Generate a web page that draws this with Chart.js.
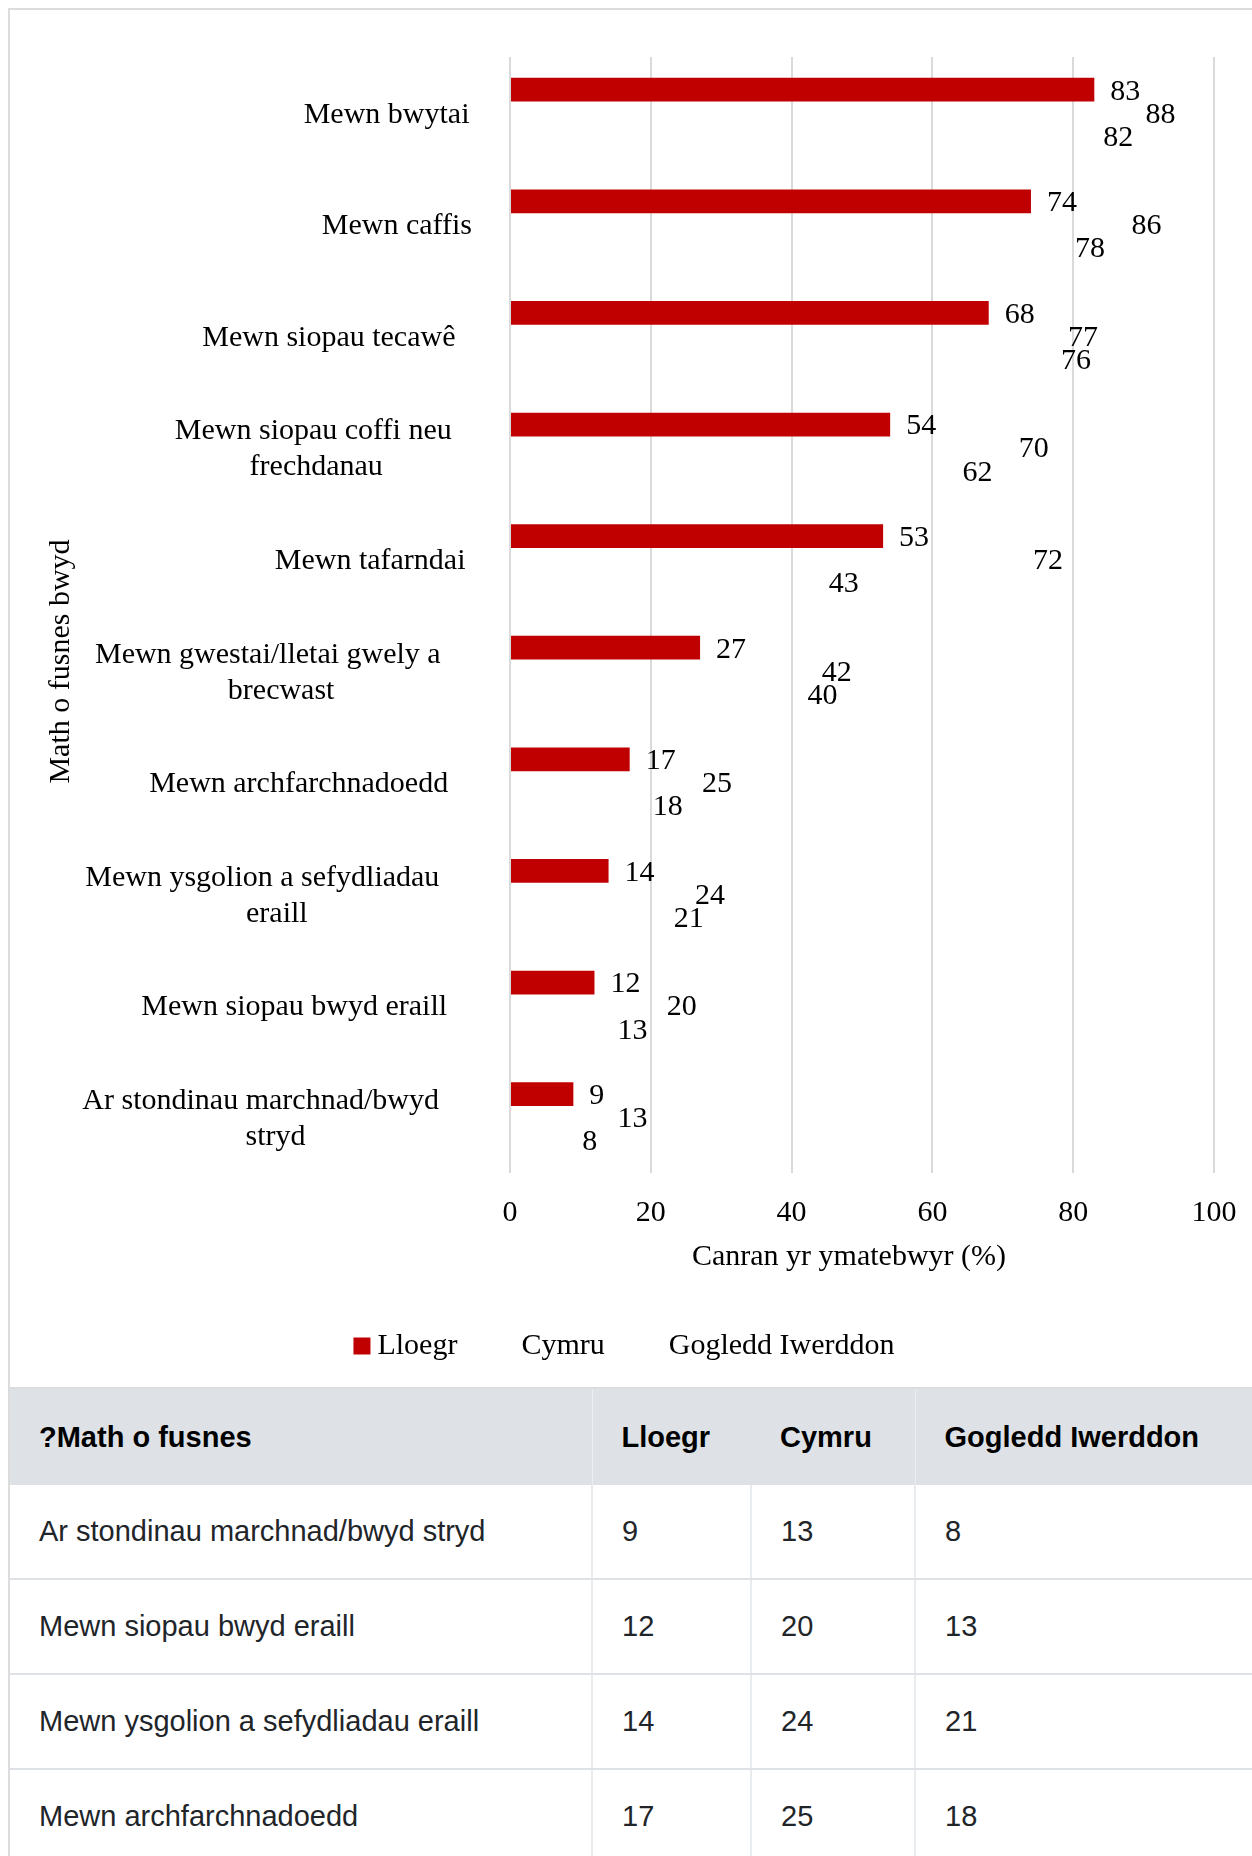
<!DOCTYPE html>
<html lang="cy">
<head>
<meta charset="utf-8">
<script src="https://cdn.jsdelivr.net/npm/chart.js@4"></script>
<style>
  body { margin: 0; background: #fff; overflow: hidden; }
  .panel {
    position: absolute; left: 8px; top: 8px; width: 1320px;
    border-left: 2px solid #dcdcdc; border-top: 2px solid #dcdcdc;
  }
  .lienzo { position: relative; width: 1228px; height: 1377px; }
  table {
    border-collapse: collapse; table-layout: fixed; width: 1310px;
    font-family: "Liberation Sans", Arial, sans-serif; font-size: 29px; color: #212529;
  }
  th, td { text-align: left; padding: 0 0 0 29px; }
  th {
    background: #dee2e6; height: 96px; font-weight: bold; color: #000;
    border-top: 2px solid #dcdcdc;
  }
  th.sep { border-left: 1px solid #eceef0; }
  td { height: 93px; border-bottom: 2px solid #dee2e6; border-left: 2px solid #e9ecef; }
  td:first-child { border-left: none; }
</style>
</head>
<body>
<div class="panel">
  <div class="lienzo"><canvas id="grafica"></canvas></div>
  <table id="tabla">
    <colgroup><col style="width:582px"><col style="width:159px"><col style="width:164px"><col></colgroup>
    <thead>
      <tr><th>?Math o fusnes</th><th class="sep">Lloegr</th><th>Cymru</th><th class="sep">Gogledd Iwerddon</th></tr>
    </thead>
    <tbody></tbody>
  </table>
</div>

<script>
// datos: orden de la tabla (de abajo hacia arriba en la gráfica)
const categorias = [
  "Ar stondinau marchnad/bwyd stryd",
  "Mewn siopau bwyd eraill",
  "Mewn ysgolion a sefydliadau eraill",
  "Mewn archfarchnadoedd",
  "Mewn gwestai/lletai gwely a brecwast",
  "Mewn tafarndai",
  "Mewn siopau coffi neu frechdanau",
  "Mewn siopau tecawê",
  "Mewn caffis",
  "Mewn bwytai"
];
const series = ["Lloegr", "Cymru", "Gogledd Iwerddon"];
const lloegr = [9, 12, 14, 17, 27, 53, 54, 68, 74, 83];
const cymru = [13, 20, 24, 25, 42, 72, 70, 77, 86, 88];
const gogledd = [8, 13, 21, 18, 40, 43, 62, 76, 78, 82];
const ticksX = [0, 20, 40, 60, 80, 100];
const tituloX = "Canran yr ymatebwyr (%)";
const tituloY = "Math o fusnes bwyd";

const fuente = '"Liberation Serif", "Times New Roman", serif';

// tabla debajo de la gráfica
const cuerpo = document.querySelector("#tabla tbody");
categorias.forEach((cat, i) => {
  const tr = document.createElement("tr");
  [cat, lloegr[i], cymru[i], gogledd[i]].forEach(v => {
    const td = document.createElement("td");
    td.innerText = v;
    tr.appendChild(td);
  });
  cuerpo.appendChild(tr);
});

function partir(ctx, texto, max) {
  const palabras = texto.split(" ");
  const lineas = [];
  let actual = "";
  palabras.forEach(p => {
    const prueba = actual ? actual + " " + p : p;
    if (actual && ctx.measureText(prueba).width > max) {
      lineas.push(actual);
      actual = p;
    } else {
      actual = prueba;
    }
  });
  lineas.push(actual);
  return lineas;
}

// etiquetas de categoría, títulos de los ejes y leyenda
const textos = {
  id: "textos",
  afterDraw(chart) {
    const ctx = chart.ctx;
    const area = chart.chartArea;
    const y = chart.scales.y;
    const x = chart.scales.x;
    ctx.save();
    ctx.font = "30px " + fuente;
    ctx.fillStyle = "#000";
    ctx.textAlign = "center";
    ctx.textBaseline = "middle";
    categorias.forEach((cat, i) => {
      const lineas = partir(ctx, cat, 390);
      const ancho = Math.max(...lineas.map(l => ctx.measureText(l).width));
      const cx = area.left - 14 - 0.66 * ancho;
      const cy = y.getPixelForValue(i) + 2;
      lineas.forEach((l, k) => {
        const dx = k > 0 ? Math.max(0, 0.15 * (ancho - 257)) : 0;
        ctx.fillText(l, cx + dx, cy + (k - (lineas.length - 1) / 2) * 36);
      });
    });
    // título del eje X (un poco a la izquierda del centro)
    ctx.fillText(tituloX, (area.left + area.right) / 2 - 13, x.bottom - 41);
    // título del eje Y
    ctx.save();
    ctx.translate(51, (area.top + x.bottom) / 2 - 16);
    ctx.rotate(-Math.PI / 2);
    ctx.fillText(tituloY, 0, 0);
    ctx.restore();

    // leyenda: cuadro + texto, centrada bajo la gráfica
    const caja = 17, hueco = 7, sep = 40;
    const anchos = series.map(s => ctx.measureText(s).width);
    const total = anchos.reduce((a, b) => a + b, 0) + series.length * (caja + hueco) + (series.length - 1) * sep;
    let lx = chart.width / 2 - total / 2;
    const ly = chart.height - 41;
    ctx.textAlign = "left";
    chart.data.datasets.forEach((ds, d) => {
      ctx.fillStyle = ds.backgroundColor;
      ctx.fillRect(lx, ly - caja / 2, caja, caja);
      ctx.fillStyle = "#000";
      ctx.fillText(series[d], lx + caja + hueco, ly);
      lx += caja + hueco + anchos[d] + sep;
    });
    ctx.restore();
  }
};

// valores al final de cada barra (también las transparentes)
const valores = {
  id: "valores",
  afterDatasetsDraw(chart) {
    const ctx = chart.ctx;
    ctx.save();
    ctx.font = "30px " + fuente;
    ctx.fillStyle = "#000";
    ctx.textAlign = "left";
    ctx.textBaseline = "middle";
    chart.data.datasets.forEach((ds, d) => {
      chart.getDatasetMeta(d).data.forEach((barra, i) => {
        ctx.fillText(ds.data[i], barra.x + 16, barra.y + 2);
      });
    });
    ctx.restore();
  }
};

const conjunto = (label, data, color) => ({
  label: label,
  data: data,
  backgroundColor: color,
  borderWidth: 0,
  categoryPercentage: 0.62,
  barPercentage: 1.03
});

new Chart(document.getElementById("grafica"), {
  type: "bar",
  data: {
    labels: categorias,
    datasets: [
      conjunto(series[0], lloegr, "#c00000"),
      conjunto(series[1], cymru, "rgba(0,0,0,0)"),
      conjunto(series[2], gogledd, "rgba(0,0,0,0)")
    ]
  },
  options: {
    indexAxis: "y",
    responsive: true,
    maintainAspectRatio: false,
    animation: false,
    devicePixelRatio: 1,
    layout: { padding: { top: 47, bottom: 89, left: 0, right: 24 } },
    scales: {
      x: {
        min: 0,
        max: 100,
        afterBuildTicks: s => { s.ticks = ticksX.map(v => ({ value: v })); },
        afterFit: s => { s.paddingRight = 0; },
        grid: { color: "#dadada", lineWidth: 2, drawTicks: false },
        border: { display: false },
        ticks: { color: "#000", padding: 22, font: { family: fuente, size: 30 } },
        title: {
          display: true,
          text: tituloX,
          color: "rgba(0,0,0,0)",
          font: { family: fuente, size: 30 },
          padding: { top: -14, bottom: 23 }
        }
      },
      y: {
        reverse: true,
        grid: { display: false },
        border: { display: false },
        ticks: { display: false },
        afterFit: s => { s.width = 500; }
      }
    },
    plugins: {
      tooltip: { enabled: false },
      legend: { display: false }
    }
  },
  plugins: [valores, textos]
});
</script>
</body>
</html>
